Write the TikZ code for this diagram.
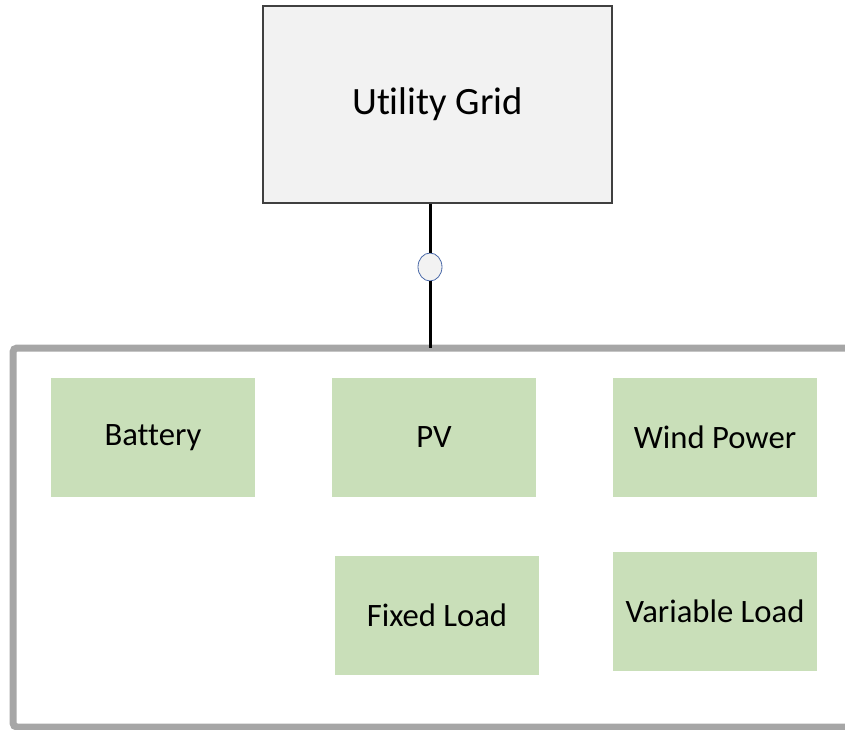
\documentclass[tikz,border=0pt]{standalone}
\usepackage{fontspec}
\setmainfont{Carlito}[Ligatures=NoCommon]
\usepackage{tikz}
\usetikzlibrary{shapes.geometric}
\definecolor{gridfill}{RGB}{242,242,242}
\definecolor{griddraw}{RGB}{64,64,64}
\definecolor{dergreen}{RGB}{201,223,185}
\definecolor{framegray}{RGB}{166,166,166}
\definecolor{breakerblue}{RGB}{74,105,168}

\begin{document}
\begin{tikzpicture}[
    x=0.75pt, y=-0.75pt,
    grid/.style={rectangle, draw=griddraw, fill=gridfill, line width=0.9pt,
                minimum width=261.75pt, minimum height=147.75pt,
                font=\fontsize{29}{34}\selectfont, align=center},
    der/.style={rectangle, fill=dergreen, minimum width=153pt, minimum height=89.25pt,
                font=\fontsize{24.5}{29}\selectfont, align=center},
    breaker/.style={ellipse, draw=breakerblue, fill=gridfill, line width=0.6pt,
                inner sep=0pt, minimum width=18pt, minimum height=21pt},
    link/.style={line width=2.25pt}
]
\useasboundingbox (0,0) rectangle (845,729);

% Utility side
\node[grid] (util) at (437.5,104.5) {Utility Grid};
\node[breaker] (pcc) at (430,267) {};
\coordinate (bus) at (430,348);

% Microgrid frame
\draw[framegray, line width=5.25pt, rounded corners=3pt]
    (860,348) -- (13,348) -- (13,727) -- (860,727);

% Sources
\node[der] (battery) at (153,437.5) {Battery};
\node[der] (pv)      at (434,437.5) {PV};
\node[der] (wind)    at (715,437.5) {Wind Power};

% Loads
\node[der] (fixload) at (437,615.5) {Fixed Load};
\node[der] (varload) at (715,611.5) {Variable Load};

% Connection
\draw[link] (util.south -| pcc) -- (pcc);
\draw[link] (pcc) -- (bus);

\end{tikzpicture}
\end{document}
